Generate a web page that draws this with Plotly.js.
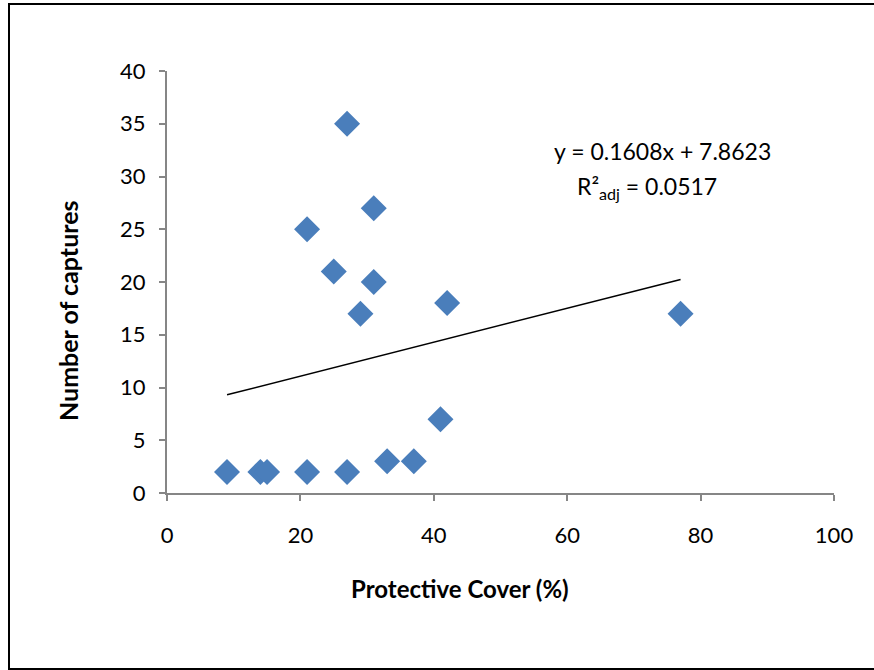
<!DOCTYPE html>
<html><head><meta charset="utf-8">
<script src="https://cdn.plot.ly/plotly-3.0.1.min.js"></script>
<style>
html,body{margin:0;padding:0;background:#fff;}
#wrap{position:relative;width:874px;height:670px;overflow:hidden;}
#chart{position:absolute;left:0;top:0;width:874px;height:670px;}
#frame{position:absolute;left:8px;top:3px;width:880px;height:663px;border:2px solid #000;pointer-events:none;}
</style></head>
<body><div id="wrap"><div id="chart"></div><div id="frame"></div></div>
<script>
var coverPct = [9, 14, 15, 21, 27, 33, 37, 41, 42, 77, 27, 21, 25, 31, 31, 29];
var captures = [2, 2, 2, 2, 2, 3, 3, 7, 18, 17, 35, 25, 21, 27, 20, 17];
var slope = 0.1608, intercept = 7.8623;
var trendX = [9, 77];
var trendY = trendX.map(function(x){return slope*x + intercept;});
var xTicks = [0, 20, 40, 60, 80, 100];
var yTicks = [0, 5, 10, 15, 20, 25, 30, 35, 40];
var xTitle = 'Protective Cover (%)';
var yTitle = 'Number of captures';
var font = "Lato, 'Open Sans', sans-serif";

var data = [
 {x: coverPct, y: captures, type:'scatter', mode:'markers',
  marker:{symbol:'diamond', size:20, color:'#4A7EBB', line:{width:0}}, hoverinfo:'none'},
 {x: trendX, y: trendY, type:'scatter', mode:'lines',
  line:{color:'#000', width:1.5}, hoverinfo:'none'}
];
var axBase = {showgrid:false, zeroline:false, showline:true, linecolor:'#868686', linewidth:2,
  ticks:'outside', ticklen:6, tickwidth:2, tickcolor:'#868686',
  tickfont:{family:font, size:22, color:'#000'}};
var W = 667, H = 422;
var layout = {
 width:874, height:670, showlegend:false,
 paper_bgcolor:'#fff', plot_bgcolor:'#fff',
 margin:{l:167, r:40, t:71, b:177},
 xaxis: Object.assign({}, axBase, {range:[0,100], tickvals:xTicks, ticktext:xTicks.map(String),
   ticklabelstandoff:16}),
 yaxis: Object.assign({}, axBase, {range:[0,40], tickvals:yTicks, ticktext:yTicks.map(String),
   ticklabelstandoff:9}),
 annotations:[
  {xref:'paper', yref:'paper', x:(460-167)/W, y:(493-588)/H, text:'<b>'+xTitle+'</b>',
   showarrow:false, font:{family:font, size:24, color:'#000'}, xanchor:'center', yanchor:'middle'},
  {xref:'paper', yref:'paper', x:(68-167)/W, y:(493-311)/H, text:'<b>'+yTitle+'</b>', textangle:-90,
   showarrow:false, font:{family:font, size:25, color:'#000'}, xanchor:'center', yanchor:'middle'},
  {xref:'paper', yref:'paper', x:(662-167)/W, y:(493-151)/H, text:'y = 0.1608x + 7.8623',
   showarrow:false, font:{family:font, size:23, color:'#000'}, xanchor:'center', yanchor:'middle'},
  {xref:'paper', yref:'paper', x:(647-167)/W, y:(493-187)/H, text:'R²<sub>adj</sub> = 0.0517',
   showarrow:false, font:{family:font, size:23, color:'#000'}, xanchor:'center', yanchor:'middle'}
 ]
};
Plotly.newPlot('chart', data, layout, {staticPlot:true, displayModeBar:false});
</script></body></html>
